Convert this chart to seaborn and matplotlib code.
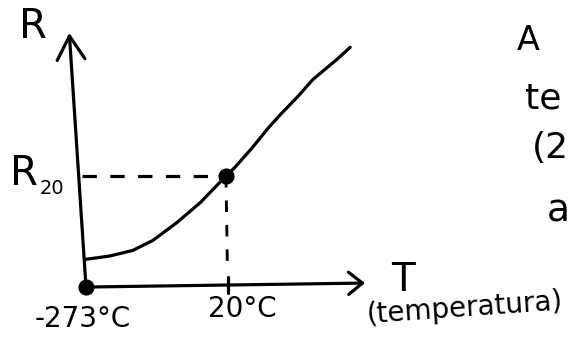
import matplotlib
matplotlib.use("Agg")
import matplotlib.pyplot as plt
import seaborn as sns
import pandas as pd

# ---- data ----
temp_c = [-273, -223, -175, -133, -83, -34, 20, 39, 74, 108, 133, 169, 202, 252, 280]
resistance = [0.25, 0.28, 0.33, 0.42, 0.58, 0.76, 1.0, 1.08, 1.25, 1.43, 1.55, 1.71, 1.87, 2.05, 2.16]
marked_T = [-273, 20]
marked_R = [0.0, 1.0]
tick_labels = ["-273°C", "20°C"]
R20_value = 1.0
T20_value = 20

sns.set_style("white")
plt.rcParams["font.family"] = ["DejaVu Sans"]

df = pd.DataFrame({"T": temp_c, "R": resistance})
dots = pd.DataFrame({"T": marked_T, "R": marked_R})

fig = plt.figure(figsize=(5.69, 3.37), dpi=100)
ax = fig.add_axes([0, 0, 1, 1])
ax.set_xlim(-453, 738)
ax.set_ylim(-0.45, 2.586)
ax.axis("off")

LW = 2.3
ink = "black"

# curve
sns.lineplot(data=df, x="T", y="R", ax=ax, color=ink, lw=LW, sort=False,
             legend=False)
ax.lines[-1].set_solid_joinstyle("round")

# dashed guides
ax.plot([-281, T20_value], [R20_value, R20_value], color=ink, lw=LW,
        dashes=(4.5, 4.2), solid_capstyle="butt")
ax.plot([T20_value, T20_value + 3], [R20_value, 0.17], color=ink, lw=LW * 0.9,
        dashes=(4.0, 4.5))

# tick at 20 °C
ax.plot([T20_value + 4, T20_value + 4], [0.09, -0.055], color=ink, lw=LW)

# axes arrows
ax.annotate("", xy=(-308, 2.29), xytext=(-273, 0.0),
            arrowprops=dict(arrowstyle="->,head_length=0.85,head_width=0.5",
                            lw=LW, color=ink, mutation_scale=20,
                            shrinkA=0, shrinkB=0))
ax.annotate("", xy=(311, 0.036), xytext=(-273, 0.0),
            arrowprops=dict(arrowstyle="->,head_length=0.5,head_width=0.4",
                            lw=LW, color=ink, mutation_scale=20,
                            shrinkA=0, shrinkB=0))

# marked points
sns.scatterplot(data=dots, x="T", y="R", ax=ax, color=ink, s=115,
                edgecolor=ink, zorder=5, legend=False)

# labels (handwritten in the original)
W, H = 569.0, 337.0
def ftxt(x, y, s, size, **kw):
    fig.text(x / W, 1 - y / H, s, fontsize=size, color=ink, ha=kw.pop("ha", "center"),
             va=kw.pop("va", "center"), **kw)

ftxt(33, 27, "R", 29)
ftxt(24, 174, "R", 29)
ftxt(52, 188, "20", 14)
ftxt(83, 319, tick_labels[0], 20)
ftxt(208, 309, tick_labels[1], 20, ha="left")
ftxt(403, 280, "T", 28)
ftxt(465, 308, "(temperatura)", 20, rotation=4)
ftxt(528, 40, "A", 24)
ftxt(525, 98, "te", 26, ha="left")
ftxt(532, 148, "(2", 26, ha="left")
ftxt(547, 212, "a", 27, ha="left")

fig.savefig("out.png", dpi=100)
